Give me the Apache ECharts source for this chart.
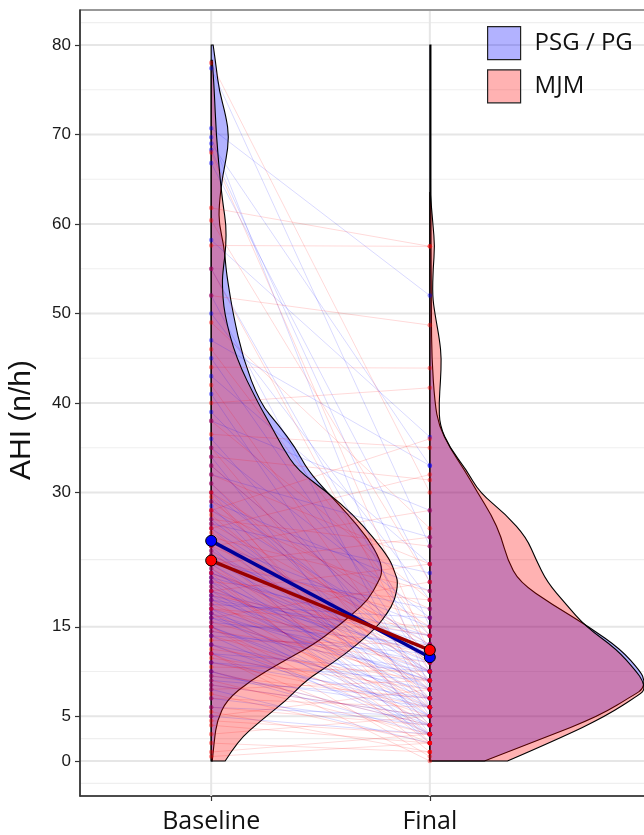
<!DOCTYPE html>
<html>
<head>
<meta charset="utf-8">
<script src="https://cdn.jsdelivr.net/npm/echarts@6/dist/echarts.min.js"></script>
<style>
  html, body { margin: 0; padding: 0; overflow: hidden; background: #fff; }
  #chart { width: 700px; height: 835px; }
</style>
</head>
<body>
<div id="chart"></div>
<script>
// AHI before / after treatment, paired per patient
const categories = ['Baseline', 'Final'];
const groupNames = ['PSG / PG', 'MJM'];
const yTicks = [0, 5, 15, 30, 40, 50, 60, 70, 80];
const yMinorGrid = [-2.5, 2.5, 10, 22.5, 35, 45, 55, 65, 75, 82.5];

const psgBaseline = [
  77.4, 70.7, 69.7, 69.0, 68.3, 66.8, 58.2, 55, 52, 50,
  47, 45, 43, 41, 39, 38, 36, 35, 34, 33,
  32, 31, 30, 29, 28.5, 28, 27, 26.5, 26, 25,
  24.5, 24, 23, 22.5, 22, 21.5, 21, 20.5, 20, 19.5,
  19, 18.5, 18, 17.5, 17, 16.5, 16, 15.5, 15, 14.5,
  14, 13, 12, 11, 10, 9, 8, 6, 5, 22,
  21, 20, 19, 18, 17, 16, 15, 14, 13, 12,
  11, 10, 9.5, 8.5, 7, 20.5, 23.5, 18.5, 16.5
];
const psgFinal = [
  24, 52, 8, 33, 15, 20, 36.2, 12, 6, 18,
  33, 10, 22, 5, 14, 28, 9, 16, 3, 12,
  25, 7, 11, 19, 4, 13, 8, 21, 10, 6,
  15, 2, 12, 9, 17, 5, 11, 14, 3, 8,
  12, 6, 10, 16, 4, 9, 7, 13, 5, 10,
  3, 8, 6, 9, 4, 7, 2, 5, 3, 8,
  13, 10, 5, 14, 9, 11, 6, 12, 4, 10,
  7, 3, 6, 5, 4, 7, 10, 12, 3
];
const mjmBaseline = [
  78, 68, 61.8, 60.4, 57.6, 55, 52, 49, 46, 44,
  42, 40, 38, 36.5, 35, 34, 33, 32, 31, 30,
  29.5, 29, 28, 27.5, 27, 26.5, 26, 25.5, 25, 24.5,
  24, 23.5, 23, 22.5, 22, 21.5, 21, 20.5, 20, 19.5,
  19, 18.5, 18, 17.5, 17, 16.5, 16, 15.5, 15, 14.5,
  14, 13.5, 13, 12.5, 12, 11.5, 11, 10.5, 10, 9.5,
  9, 8.5, 8, 7.5, 7, 6, 5.5, 5, 4.5, 4,
  3, 2, 1, 0.5, 22, 19, 17, 24, 26, 21,
  15, 12, 30, 28
];
const mjmFinal = [
  30, 12, 57.5, 20, 57.5, 10, 48.7, 26, 14, 43.9,
  8, 41.7, 18, 35, 6, 31.4, 12, 22, 9, 15,
  4, 11, 17, 7, 24, 13, 5, 10, 19, 8,
  14, 3, 11, 16, 6, 9, 12, 2, 18, 7,
  10, 14, 4, 8, 12, 6, 20, 9, 3, 11,
  7, 13, 5, 9, 2, 8, 6, 10, 4, 7,
  3, 5, 9, 2, 6, 4, 1, 8, 3, 2,
  5, 1, 3, 2, 25, 22, 15, 28, 32, 1,
  0.5, 0, 2, 36
];

// group means [Baseline, Final]
const psgMean = [24.6, 11.6];
const mjmMean = [22.4, 12.4];

// half violin profiles: [AHI, density half-width in category units]
const psgViolinBaseline = [
  [0, 0.005], [2.3, 0.014], [4.5, 0.027], [6.8, 0.07], [9, 0.18], [11, 0.32],
  [13, 0.468], [15, 0.577], [16.5, 0.65], [18, 0.718], [20, 0.764], [21, 0.782],
  [22.5, 0.773], [25, 0.714], [27.5, 0.627], [30, 0.532], [32.5, 0.441], [35, 0.386],
  [37.5, 0.309], [40, 0.223], [45, 0.145], [50, 0.1], [53.4, 0.077], [55, 0.068],
  [57.5, 0.059], [60, 0.036], [62, 0.036], [65, 0.05], [67.2, 0.068], [69.7, 0.082],
  [72, 0.068], [75, 0.036], [77.5, 0.023], [80, 0.009]
];
const mjmViolinBaseline = [
  [0, 0.064], [2.3, 0.123], [4.5, 0.227], [6.8, 0.345], [9, 0.432], [11, 0.559],
  [13, 0.668], [15, 0.759], [16.5, 0.805], [18, 0.841], [20, 0.855], [21, 0.841],
  [22.5, 0.818], [25, 0.741], [27.5, 0.65], [30, 0.532], [32.5, 0.395], [35, 0.327],
  [37.5, 0.273], [40, 0.214], [45, 0.114], [50, 0.059], [53.4, 0.05], [55, 0.055],
  [57.5, 0.068], [60, 0.068], [62, 0.055], [65, 0.041], [70, 0.023], [75, 0.014],
  [78.3, 0.005]
];
const psgViolinFinal = [
  [0, 0.25], [2.5, 0.514], [5, 0.773], [7.5, 0.941], [8, 0.973], [9, 0.982],
  [10, 0.964], [12.5, 0.873], [15, 0.727], [17.5, 0.559], [20, 0.409], [22.5, 0.355],
  [25, 0.327], [27.5, 0.282], [30, 0.218], [32.5, 0.159], [35, 0.091], [37.5, 0.041],
  [40, 0.023], [45, 0.009], [50, 0.007], [60, 0.005], [70, 0.005], [80, 0.005]
];
const mjmViolinFinal = [
  [0, 0.355], [2.5, 0.591], [5, 0.805], [7.5, 0.964], [8, 0.982], [9, 0.973],
  [10, 0.945], [12.5, 0.855], [15, 0.714], [17.5, 0.623], [20, 0.536], [22.5, 0.486],
  [25, 0.441], [27.5, 0.35], [30, 0.227], [32.5, 0.168], [35, 0.091], [37.5, 0.045],
  [40, 0.042], [42.5, 0.049], [45, 0.053], [47, 0.045], [50, 0.023], [52, 0.012],
  [55, 0.015], [57.5, 0.023], [60, 0.014], [63.5, 0.002]
];

const BLUE_FILL = 'rgba(0,0,255,0.3)';
const RED_FILL = 'rgba(255,0,0,0.3)';

const chart = echarts.init(document.getElementById('chart'));

function violinPath(profile, pos, api) {
  const pts = profile.map(d => api.coord([pos + d[1], d[0]]));
  const b0 = api.coord([pos, profile[0][0]]);
  const b1 = api.coord([pos, profile[profile.length - 1][0]]);
  let d = 'M' + b0[0] + ',' + b0[1] + 'L' + pts[0][0] + ',' + pts[0][1];
  for (let i = 1; i < pts.length - 1; i++) {
    const mx = (pts[i][0] + pts[i + 1][0]) / 2;
    const my = (pts[i][1] + pts[i + 1][1]) / 2;
    d += 'Q' + pts[i][0] + ',' + pts[i][1] + ',' + mx + ',' + my;
  }
  const last = pts[pts.length - 1];
  d += 'L' + last[0] + ',' + last[1] + 'L' + b1[0] + ',' + b1[1] + 'Z';
  return d;
}

function violinSeries(name, profiles, fill) {
  return {
    name: name,
    type: 'custom',
    silent: true,
    itemStyle: { color: fill },
    data: [[0], [1]],
    renderItem: function (params, api) {
      const i = params.dataIndex;
      return {
        type: 'path',
        shape: { pathData: violinPath(profiles[i], i + 1, api) },
        style: { fill: fill, stroke: '#000', lineWidth: 1.1 }
      };
    }
  };
}

function pairSeries(name, base, fin, lineColor, dotColor) {
  return {
    name: name,
    type: 'custom',
    silent: true,
    itemStyle: { color: dotColor },
    data: base.map((b, i) => [b, fin[i]]),
    renderItem: function (params, api) {
      const p0 = api.coord([1, api.value(0)]);
      const p1 = api.coord([2, api.value(1)]);
      return {
        type: 'group',
        children: [
          { type: 'line', shape: { x1: p0[0], y1: p0[1], x2: p1[0], y2: p1[1] },
            style: { stroke: lineColor, lineWidth: 1 } },
          { type: 'circle', shape: { cx: p0[0], cy: p0[1], r: 2.3 }, style: { fill: dotColor } },
          { type: 'circle', shape: { cx: p1[0], cy: p1[1], r: 2.3 }, style: { fill: dotColor } }
        ]
      };
    }
  };
}

function meanSeries(name, mean, lineColor, dotColor) {
  return {
    name: name,
    type: 'line',
    silent: true,
    data: mean.map((m, i) => [i + 1, m]),
    symbol: 'circle',
    symbolSize: 11,
    lineStyle: { color: lineColor, width: 3.5 },
    itemStyle: { color: dotColor, borderColor: '#000', borderWidth: 1 }
  };
}

const gridSeries = {
  name: 'grid',
  type: 'custom',
  silent: true,
  data: yTicks.map(v => [v, 1]).concat(yMinorGrid.map(v => [v, 0])),
  renderItem: function (params, api) {
    const cs = params.coordSys;
    const y = api.coord([1, api.value(0)])[1];
    const major = api.value(1) === 1;
    return {
      type: 'line',
      shape: { x1: cs.x + 1, y1: y, x2: cs.x + cs.width, y2: y },
      style: { stroke: major ? '#e6e6e6' : '#efefef', lineWidth: major ? 2 : 1.2 }
    };
  }
};

const xGridSeries = {
  name: 'xgrid',
  type: 'custom',
  silent: true,
  data: categories.map((c, i) => [i + 1]),
  renderItem: function (params, api) {
    const cs = params.coordSys;
    const x = api.coord([api.value(0), 0])[0];
    return {
      type: 'line',
      shape: { x1: x, y1: cs.y + 1, x2: x, y2: cs.y + cs.height },
      style: { stroke: '#e6e6e6', lineWidth: 2 }
    };
  }
};

chart.setOption({
  animation: false,
  backgroundColor: '#fff',
  grid: {
    left: 80, top: 10, right: 10, bottom: 39,
    show: true, borderColor: '#333', borderWidth: 1.2
  },
  xAxis: {
    type: 'value',
    min: 0.4,
    max: 3.19,
    splitLine: { show: false },
    axisLine: { show: true, onZero: false, lineStyle: { color: '#333', width: 1.5 } },
    axisTick: { show: true, customValues: [1, 2], length: 5, lineStyle: { color: '#333', width: 1.2 } },
    axisLabel: {
      customValues: [1, 2],
      formatter: v => categories[Math.round(v) - 1],
      fontFamily: 'Open Sans', fontSize: 25, color: '#111', margin: 13
    }
  },
  yAxis: {
    type: 'value',
    min: -3.91,
    max: 83.91,
    splitLine: { show: false },
    axisLine: { show: true, onZero: false, lineStyle: { color: '#333', width: 1.5 } },
    axisTick: { show: true, customValues: yTicks, length: 5, lineStyle: { color: '#333', width: 1.2 } },
    axisLabel: {
      customValues: yTicks,
      fontFamily: 'Liberation Sans', fontSize: 17, color: '#1a1a1a', margin: 9
    }
  },
  legend: {
    orient: 'vertical',
    left: 487,
    top: 26,
    padding: 0,
    itemGap: 9,
    itemWidth: 33,
    itemHeight: 33,
    icon: 'rect',
    selectedMode: false,
    textStyle: { fontFamily: 'Open Sans', fontSize: 24, color: '#111', padding: [0, 0, 0, 9] },
    data: [
      { name: groupNames[0], itemStyle: { color: BLUE_FILL, borderColor: '#222', borderWidth: 1.2 } },
      { name: groupNames[1], itemStyle: { color: RED_FILL, borderColor: '#222', borderWidth: 1.2 } }
    ]
  },
  graphic: [{
    type: 'text',
    x: 22,
    y: 420,
    rotation: Math.PI / 2,
    style: {
      text: 'AHI (n/h)',
      fontFamily: 'Liberation Sans',
      fontSize: 30,
      fill: '#111',
      align: 'center',
      verticalAlign: 'middle'
    }
  }],
  series: [
    gridSeries,
    xGridSeries,
    violinSeries(groupNames[0], [psgViolinBaseline, psgViolinFinal], BLUE_FILL),
    violinSeries(groupNames[1], [mjmViolinBaseline, mjmViolinFinal], RED_FILL),
    pairSeries(groupNames[0], psgBaseline, psgFinal, 'rgba(0,0,255,0.15)', 'rgba(0,0,255,0.4)'),
    pairSeries(groupNames[1], mjmBaseline, mjmFinal, 'rgba(255,0,0,0.15)', 'rgba(255,0,0,0.4)'),
    meanSeries('PSG / PG mean', psgMean, '#000099', '#0000ff'),
    meanSeries('MJM mean', mjmMean, '#990000', '#ff0000')
  ]
});
</script>
</body>
</html>
